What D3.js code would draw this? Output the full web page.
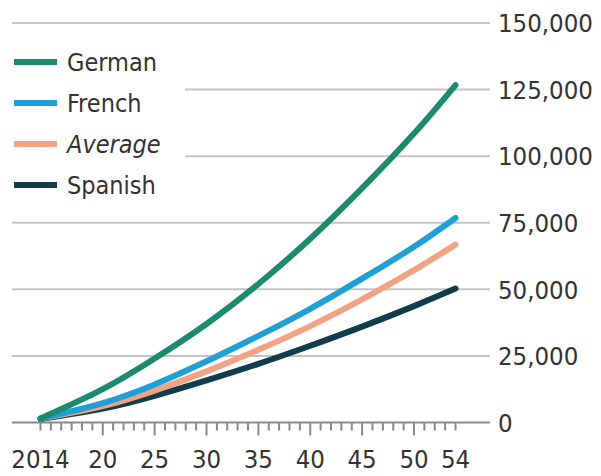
<!DOCTYPE html>
<html>
<head>
<meta charset="utf-8">
<script src="https://cdn.jsdelivr.net/npm/d3@7"></script>
<style>
  html, body { margin: 0; padding: 0; background: #fff; }
  svg { display: block; }
  text { font-family: "DejaVu Sans Condensed", "DejaVu Sans", sans-serif; fill: #333; }
</style>
</head>
<body>
<svg id="chart" width="601" height="476"></svg>
<script>
// ---- data ----
const years = [2014, 2020, 2025, 2030, 2035, 2040, 2045, 2050, 2054];
const german  = [1500, 12500, 24000, 37000, 52000, 69000, 88000, 108500, 126700];
const french  = [1500, 7300, 14300, 23000, 32500, 42700, 54000, 66000, 76800];
const average = [1500, 6200, 12000, 19200, 27300, 36200, 46200, 57200, 66800];
const spanish = [1300, 5200, 10000, 15800, 22000, 28800, 36000, 43700, 50300];
const seriesNames = ["German", "French", "Average", "Spanish"];
const seriesColors = ["#1b8a6f", "#1fa0d4", "#f0a283", "#0f3d4c"];
const yTicks = [0, 25000, 50000, 75000, 100000, 125000, 150000];
const xTickLabels = ["2014", "20", "25", "30", "35", "40", "45", "50", "54"];
const xLabelYears = [2014, 2020, 2025, 2030, 2035, 2040, 2045, 2050, 2054];

const seriesValues = [german, french, average, spanish];

const svg = d3.select("#chart");
const gridLeft = 12, gridRight = 490;

const x = d3.scaleLinear().domain([2014, 2054]).range([40.5, 455.5]);
const y = d3.scaleLinear().domain([0, 150000]).range([422.5, 23]);

const fmt = d3.format(",");

// legend geometry
const legendY = [62, 103, 144, 185];
const legendTop = 40, legendBottom = 205, legendGap = 185;

// gridlines
yTicks.filter(t => t !== 0).forEach(t => {
  const yy = y(t);
  const x0 = (yy > legendTop && yy < legendBottom) ? legendGap : gridLeft;
  svg.append("line")
    .attr("x1", x0).attr("x2", gridRight)
    .attr("y1", yy).attr("y2", yy)
    .attr("stroke", "#c4c4c4").attr("stroke-width", 2);
});

// y labels
svg.append("g").selectAll("text").data(yTicks).join("text")
  .attr("x", 498).attr("y", d => y(d))
  .attr("dy", "0.36em")
  .attr("font-size", 25.5)
  .text(d => fmt(d));

// x axis ticks
const yearTicks = d3.range(2014, 2055);
svg.append("g").selectAll("line").data(yearTicks).join("line")
  .attr("x1", d => x(d)).attr("x2", d => x(d))
  .attr("y1", y(0)).attr("y2", d => (d % 5 === 0 && d !== 2015) ? y(0) + 13 : y(0) + 8)
  .attr("stroke", "#8a8a8a").attr("stroke-width", 2);

// baseline
svg.append("line")
  .attr("x1", gridLeft).attr("x2", gridRight)
  .attr("y1", y(0)).attr("y2", y(0))
  .attr("stroke", "#8a8a8a").attr("stroke-width", 2);

// x labels
svg.append("g").selectAll("text").data(xLabelYears).join("text")
  .attr("x", d => x(d)).attr("y", 468)
  .attr("text-anchor", "middle")
  .attr("font-size", 25.5)
  .text((d, i) => xTickLabels[i]);

// lines
const line = d3.line()
  .x((d, i) => x(years[i]))
  .y(d => y(d))
  .curve(d3.curveNatural);

const order = [3, 2, 1, 0];
order.forEach(k => {
  svg.append("path")
    .datum(seriesValues[k])
    .attr("d", line)
    .attr("fill", "none")
    .attr("stroke", seriesColors[k])
    .attr("stroke-width", 6)
    .attr("stroke-linecap", "round");
});

// legend
seriesNames.forEach((name, i) => {
  svg.append("line")
    .attr("x1", 14).attr("x2", 57)
    .attr("y1", legendY[i]).attr("y2", legendY[i])
    .attr("stroke", seriesColors[i]).attr("stroke-width", 6);
  svg.append("text")
    .attr("x", 67).attr("y", legendY[i])
    .attr("dy", "0.36em")
    .attr("font-size", 25)
    .attr("font-style", name === "Average" ? "italic" : "normal")
    .text(name);
});
</script>
</body>
</html>
